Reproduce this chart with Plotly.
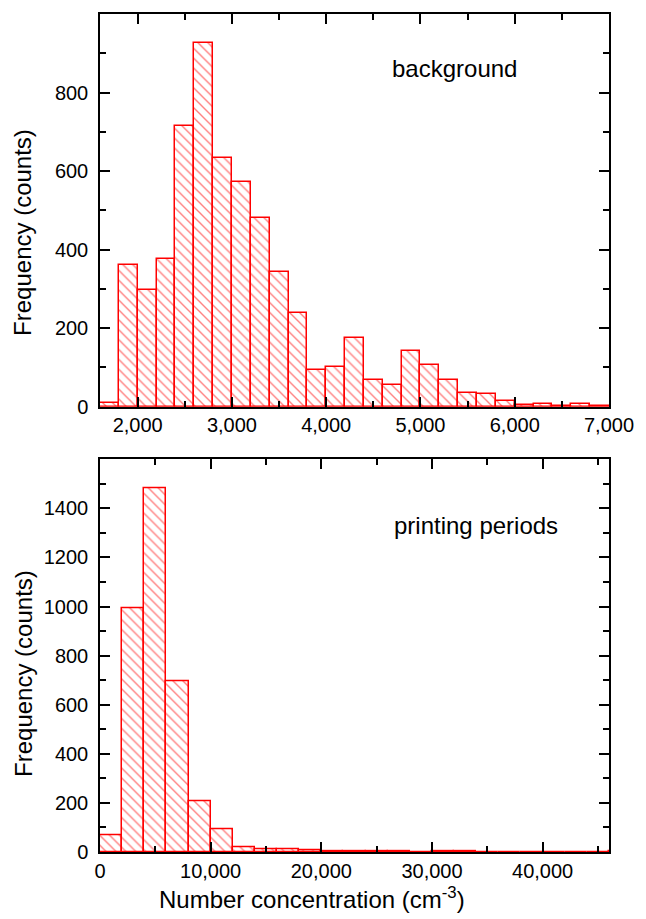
import plotly.graph_objects as go
from plotly.subplots import make_subplots

# Background histogram (bin width 200 cm^-3, starting at 1600)
bg_bin_start = 1600
bg_bin_width = 200
bg_counts = [10, 360, 298, 377, 715, 925, 633, 573, 480, 342, 239, 94, 100, 175,
             69, 55, 142, 106, 67, 36, 33, 14, 4, 6, 3, 6, 1]

# Printing periods histogram (bin width 2000 cm^-3, starting at 0)
pr_bin_start = 0
pr_bin_width = 2000
pr_counts = [68, 993, 1480, 694, 206, 91, 19, 12, 9, 5, 3, 2, 1, 1, 0, 1, 1,
             0, 0, 0, 0, 0, 0, 1]

top_xticks = [2000, 3000, 4000, 5000, 6000, 7000]
top_yticks = [0, 200, 400, 600, 800]
bot_xticks = [0, 10000, 20000, 30000, 40000]
bot_yticks = [0, 200, 400, 600, 800, 1000, 1200, 1400]

bg_x = [bg_bin_start + bg_bin_width * (i + 0.5) for i in range(len(bg_counts))]
pr_x = [pr_bin_start + pr_bin_width * (i + 0.5) for i in range(len(pr_counts))]

fig = make_subplots(rows=2, cols=1, vertical_spacing=0.0628)

RED = "#ff0000"
bar_style = dict(
    marker=dict(color="white",
                line=dict(color=RED, width=1.5),
                pattern=dict(shape="\\", fgcolor=RED, bgcolor="white",
                             size=7, solidity=0.2)),
    showlegend=False,
)

fig.add_trace(go.Bar(x=bg_x, y=bg_counts, width=bg_bin_width, **bar_style), row=1, col=1)
fig.add_trace(go.Bar(x=pr_x, y=pr_counts, width=pr_bin_width, **bar_style), row=2, col=1)

axis_common = dict(
    showline=True, linecolor="black", linewidth=1.5, mirror="allticks",
    ticks="inside", ticklen=10, tickwidth=1.5, tickcolor="black",
    showgrid=False, zeroline=False,
    tickfont=dict(family="Liberation Sans, Arial", size=20, color="black"),
)

fig.update_xaxes(**axis_common)
fig.update_yaxes(**axis_common, ticklabelstandoff=6)

fig.update_xaxes(range=[1600, 7000], tickvals=top_xticks, tickformat=",d",
                 minor=dict(dtick=500, tick0=0, ticks="inside", ticklen=6,
                            tickwidth=1.5, tickcolor="black"),
                 row=1, col=1)
fig.update_yaxes(range=[0, 1000], tickvals=top_yticks, tickformat="d",
                 minor=dict(dtick=100, tick0=0, ticks="inside", ticklen=6,
                            tickwidth=1.5, tickcolor="black"),
                 row=1, col=1)
fig.update_xaxes(range=[0, 46000], tickvals=bot_xticks, tickformat=",d",
                 minor=dict(dtick=5000, tick0=0, ticks="inside", ticklen=6,
                            tickwidth=1.5, tickcolor="black"),
                 row=2, col=1)
fig.update_yaxes(range=[0, 1600], tickvals=bot_yticks, tickformat="d",
                 minor=dict(dtick=100, tick0=0, ticks="inside", ticklen=6,
                            tickwidth=1.5, tickcolor="black"),
                 row=2, col=1)

fig.update_layout(
    xaxis=dict(domain=[0, 1]), xaxis2=dict(domain=[0, 1]),
    yaxis=dict(domain=[0.5314, 1.0]), yaxis2=dict(domain=[0.0, 0.4686]),
)

font_big = dict(family="Liberation Sans, Arial", size=24, color="black")
annotations = [
    dict(text="background", x=0.697, y=0.9344, xref="paper", yref="paper",
         showarrow=False, font=font_big, xanchor="center", yanchor="middle"),
    dict(text="printing periods", x=0.7396, y=0.3902, xref="paper", yref="paper",
         showarrow=False, font=font_big, xanchor="center", yanchor="middle"),
    dict(text="Frequency (counts)", x=-0.1514, y=0.7399, xref="paper", yref="paper",
         showarrow=False, font=font_big, textangle=-90, xanchor="center", yanchor="middle"),
    dict(text="Frequency (counts)", x=-0.1514, y=0.2136, xref="paper", yref="paper",
         showarrow=False, font=font_big, textangle=-90, xanchor="center", yanchor="middle"),
    dict(text="Number concentration (cm<sup>-3</sup>)", x=0.4156, y=-0.0549,
         xref="paper", yref="paper", showarrow=False, font=font_big,
         xanchor="center", yanchor="middle"),
]

fig.update_layout(
    width=646, height=919,
    margin=dict(l=99.5, r=28, t=14, b=67),
    paper_bgcolor="white", plot_bgcolor="white",
    bargap=0, annotations=annotations,
)

fig.write_html("out.html")
